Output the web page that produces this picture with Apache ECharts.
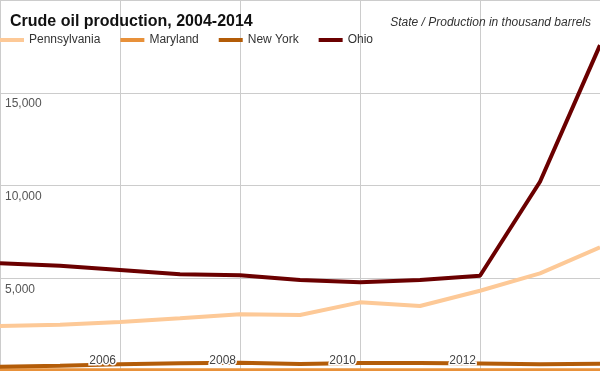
<!DOCTYPE html>
<html><head><meta charset="utf-8">
<script src="https://cdn.jsdelivr.net/npm/echarts@6/dist/echarts.min.js"></script>
<style>html,body{margin:0;padding:0;background:#fff}#c{width:600px;height:371px}</style>
</head><body><div id="c"></div>
<script>
var years = [2004, 2005, 2006, 2007, 2008, 2009, 2010, 2011, 2012, 2013, 2014];
var pennsylvania = [2425, 2495, 2640, 2840, 3055, 3017, 3700, 3502, 4327, 5264, 6665];
var maryland = [70, 70, 70, 70, 70, 70, 70, 70, 70, 70, 70];
var newYork = [230, 285, 360, 415, 450, 380, 430, 430, 410, 360, 390];
var ohio = [5803, 5673, 5442, 5210, 5156, 4903, 4779, 4903, 5135, 10200, 17565];
var seriesNames = ['Pennsylvania', 'Maryland', 'New York', 'Ohio'];
var titleText = 'Crude oil production, 2004-2014';
var subtitleText = 'State / Production in thousand barrels';

function pairs(v) { return years.map(function (y, i) { return [y, v[i]]; }); }
var colors = ['#fdc997', '#e8913a', '#b35c08', '#6b0000'];
var widths = [4, 3, 4, 4];
var allData = [pennsylvania, maryland, newYork, ohio];

var chart = echarts.init(document.getElementById('c'));
chart.setOption({
  animation: false,
  title: [
    { text: titleText, left: 5, top: 9, textStyle: { fontFamily: 'Liberation Sans', fontSize: 16, fontWeight: 'bold', color: '#111' } },
    { text: subtitleText, right: 4, top: 12, textStyle: { fontFamily: 'Liberation Sans', fontSize: 12, fontStyle: 'italic', fontWeight: 'normal', color: '#333' } }
  ],
  legend: {
    left: 0, top: 29, padding: [5, 0, 5, 0], itemWidth: 24, itemHeight: 4, itemGap: 20,
    icon: 'rect',
    textStyle: { fontFamily: 'Liberation Sans', fontSize: 12, color: '#333' },
    data: seriesNames
  },
  grid: { left: 0, right: 0, top: 0, bottom: 0, containLabel: false },
  xAxis: [
    { type: 'value', position: 'bottom', min: 2004, max: 2014, interval: 2, z: 0,
      axisLine: { show: false }, axisTick: { show: false }, axisLabel: { show: false },
      splitLine: { show: true, lineStyle: { color: '#cccccc', width: 1 } } },
    { type: 'value', position: 'bottom', min: 2004, max: 2014, interval: 2, z: 10,
      axisLine: { show: false }, axisTick: { show: false }, splitLine: { show: false },
      axisLabel: { show: true, inside: true, margin: 4, align: 'right', showMinLabel: false, showMaxLabel: false,
        padding: [0, 4, 0, 0], fontFamily: 'Liberation Sans', fontSize: 12, color: '#444',
        textBorderColor: '#fff', textBorderWidth: 3,
        formatter: function (v) { return String(v); } } }
  ],
  yAxis: {
    type: 'value', min: 0, max: 20000, interval: 5000,
    axisLine: { show: false }, axisTick: { show: false },
    splitLine: { show: true, lineStyle: { color: '#cccccc', width: 1 } },
    axisLabel: { inside: true, margin: 5, align: 'left', verticalAlign: 'top', padding: [5, 0, 0, 0],
      showMinLabel: false, showMaxLabel: false,
      fontFamily: 'Liberation Sans', fontSize: 12, color: '#555',
      formatter: function (v) { return v.toLocaleString('en-US'); } }
  },
  series: seriesNames.map(function (n, i) {
    return { name: n, type: 'line', xAxisIndex: 0, data: pairs(allData[i]), symbol: 'none',
      lineStyle: { color: colors[i], width: widths[i] }, itemStyle: { color: colors[i] }, z: 2 + i };
  })
});
</script></body></html>
